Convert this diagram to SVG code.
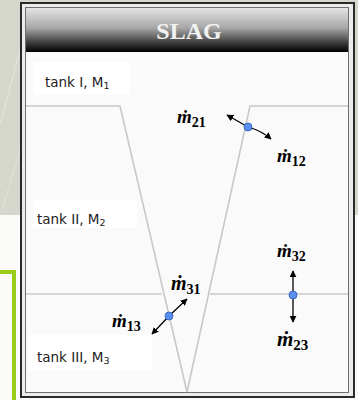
<svg xmlns="http://www.w3.org/2000/svg" width="358" height="400" viewBox="0 0 358 400">
<defs>
<linearGradient id="hdr" x1="0" y1="0" x2="0" y2="1">
<stop offset="0" stop-color="#e4e4e4"/>
<stop offset="0.45" stop-color="#a8a8a8"/>
<stop offset="0.8" stop-color="#3a3a3a"/>
<stop offset="1" stop-color="#000"/>
</linearGradient>
<marker id="ah" viewBox="0 0 10 10" refX="9" refY="5" markerWidth="7" markerHeight="7" markerUnits="userSpaceOnUse" orient="auto-start-reverse">
<path d="M0,0 L10,5 L0,10 z" fill="#000"/>
</marker>
</defs>
<style>
.wall{fill:none;stroke:#c8c8c8;stroke-width:1.6}
.lbl{font-family:"DejaVu Sans",Verdana,sans-serif;font-size:13.5px;fill:#222}
.m{font-family:"Liberation Serif","Times New Roman",serif;font-weight:bold;font-style:italic;fill:#000}
.s{font-style:normal;font-weight:bold}
.dot{fill:#5a8ff0;stroke:#2a5bb8;stroke-width:0.8}
.arr{stroke:#000;stroke-width:1.3;fill:none;marker-end:url(#ah)}
</style>
<!-- background -->
<rect x="0" y="0" width="358" height="400" fill="#fbfbf9"/>
<rect x="0" y="0" width="358" height="215" fill="#d5d7cc"/>
<line x1="0" y1="125" x2="20" y2="50" stroke="#e2e4da" stroke-width="1.2"/>
<line x1="2" y1="210" x2="20" y2="150" stroke="#e2e4da" stroke-width="1"/>
<path d="M0,272 H14 V400" fill="none" stroke="#9acd1a" stroke-width="4"/>
<!-- frame -->
<rect x="21" y="3" width="333" height="394" fill="#ececec" stroke="#2a2a2a" stroke-width="2"/>
<rect x="25.5" y="7.5" width="323" height="385" fill="#fafafa" stroke="#6e6e6e" stroke-width="1"/>
<rect x="26" y="8" width="322" height="44" fill="url(#hdr)"/>
<text x="189" y="39" text-anchor="middle" font-family="Liberation Serif,'Times New Roman',serif" font-weight="bold" font-size="24" fill="#f2f2f2">SLAG</text>
<!-- tank walls -->
<g id="walls">
<path class="wall" d="M26,106 H120 L187,392 L250,106 H348"/>
<path class="wall" d="M26,294 H162"/>
<path class="wall" d="M210,294 H348"/>
</g>
<!-- tank labels -->
<g id="tank1">
<rect x="34" y="62" width="96" height="33" fill="#ffffff"/>
<text class="lbl" x="45" y="87">tank I,  M<tspan font-size="9.5" dy="2">1</tspan></text>
</g>
<g id="tank2">
<rect x="33" y="200" width="104" height="28" fill="#ffffff"/>
<text class="lbl" x="37" y="224">tank II, M<tspan font-size="9.5" dy="2">2</tspan></text>
</g>
<g id="tank3">
<rect x="28" y="335" width="124" height="35" fill="#ffffff"/>
<text class="lbl" x="37" y="362">tank III, M<tspan font-size="9.5" dy="2">3</tspan></text>
</g>
<!-- connectors -->
<g id="connectors">
<line class="arr" x1="248" y1="127" x2="227" y2="115"/>
<path class="arr" d="M248,127 Q262,131 271,139"/>
<line class="arr" x1="169" y1="316" x2="187" y2="299"/>
<line class="arr" x1="169" y1="316" x2="152" y2="334"/>
<line class="arr" x1="293" y1="295" x2="293" y2="271"/>
<line class="arr" x1="293" y1="295" x2="293" y2="322"/>
</g>
<!-- flow points -->
<g id="flow12"><circle class="dot" cx="248" cy="127" r="4"/></g>
<g id="flow13"><circle class="dot" cx="169" cy="316" r="4"/></g>
<g id="flow23"><circle class="dot" cx="293" cy="295" r="4"/></g>
<!-- flow labels -->
<g id="m21"><text class="m" x="177" y="123" font-size="19">ṁ<tspan class="s" font-size="14" dy="4" dx="0">21</tspan></text></g>
<g id="m12"><text class="m" x="277" y="162" font-size="19">ṁ<tspan class="s" font-size="14" dy="4" dx="0">12</tspan></text></g>
<g id="m32"><text class="m" x="277" y="257" font-size="19">ṁ<tspan class="s" font-size="14" dy="4" dx="0">32</tspan></text></g>
<g id="m31"><text class="m" x="171" y="290" font-size="20">ṁ<tspan class="s" font-size="14" dy="4" dx="0">31</tspan></text></g>
<g id="m13"><text class="m" x="112" y="327" font-size="19">ṁ<tspan class="s" font-size="14" dy="4" dx="0">13</tspan></text></g>
<g id="m23"><text class="m" x="277" y="346" font-size="21">ṁ<tspan class="s" font-size="15" dy="4" dx="0">23</tspan></text></g>
</svg>
